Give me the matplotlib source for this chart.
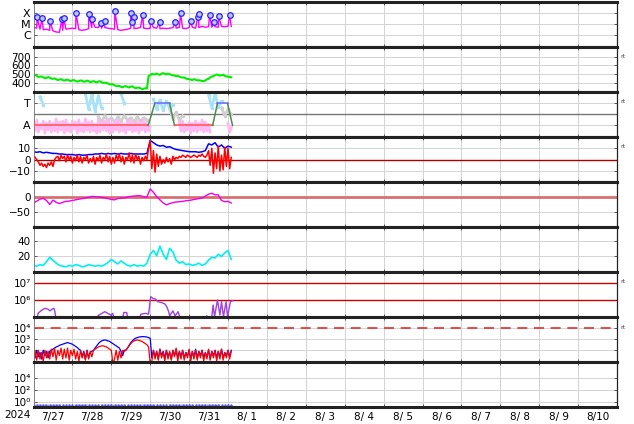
import numpy as np
import matplotlib
matplotlib.use('Agg')
import matplotlib.pyplot as plt

nan = np.nan

# time grids (hours since 2024-07-27 00:00)
h2 = np.arange(0, 123, 2)   # 2-hourly
h1 = np.arange(0, 123)      # hourly

day_labels = ['7/27', '7/28', '7/29', '7/30', '7/31', '8/ 1', '8/ 2', '8/ 3',
              '8/ 4', '8/ 5', '8/ 6', '8/ 7', '8/ 8', '8/ 9', '8/10']

# X-ray flux, log10 W/m2 (background every 2 h)
xray_base = [-5.27, -5.36, -5.45, -5.5, -5.45, -5.55, -5.6, -5.7, -5.73, -5.55,
             -5.45, -5.4, -5.36, -5.4, -5.5, -5.55, -5.5, -5.4, -5.3, -5.27,
             -5.3, -5.36, -5.3, -5.36, -5.4, -5.45, -5.5, -5.55, -5.5, -5.45,
             -5.36, -5.4, -5.36, -5.3, -5.36, -5.4, -5.36, -5.3, -5.36, -5.4,
             -5.36, -5.4, -5.36, -5.3, -5.36, -5.27, -5.36, -5.4, -5.3, -5.27,
             -5.36, -5.3, -5.18, -5.27, -5.22, -5.27, -5.22, -5.27, -5.2, -5.22,
             -5.18, -5.2]
flare_h = [2.2, 5.3, 10.1, 17.5, 18.7, 26.2, 34.1, 36.0, 41.5, 43.9, 50.2, 60.0,
           61.9, 60.5, 67.4, 72.2, 77.8, 87.6, 90.7, 97.0, 101.3, 101.8, 108.7,
           111.6, 114.2, 121.0]
flare_lg = [-4.36, -4.45, -4.73, -4.55, -4.45, -4.0, -4.09, -4.55, -4.91, -4.73,
            -3.82, -4.0, -4.36, -4.82, -4.18, -4.73, -4.82, -4.82, -4.0, -4.73,
            -4.36, -4.09, -4.18, -4.82, -4.27, -4.18]

# solar wind speed km/s (hourly)
speed = [485, 492, 478, 466, 470, 471, 462, 452, 455, 464,
         458, 447, 445, 449, 440, 430, 436, 441, 430, 424,
         432, 435, 425, 419, 428, 430, 420, 413, 418, 426,
         422, 411, 415, 424, 418, 406, 412, 418, 410, 403,
         414, 416, 405, 396, 400, 398, 390, 380, 382, 381,
         370, 362, 360, 362, 352, 346, 358, 360, 350, 345,
         356, 357, 345, 336, 342, 344, 335, 326, 330, 336,
         332, 478, 485, 502, 495, 498, 505, 496, 490, 505,
         510, 500, 495, 505, 498, 490, 485, 482, 475, 478,
         470, 462, 460, 458, 450, 442, 440, 436, 430, 440,
         435, 426, 428, 424, 420, 418, 425, 438, 445, 462,
         470, 476, 485, 495, 490, 482, 485, 492, 478, 472,
         470, 466, 462]

# IMF sector (T=+1, A=-1)
sector_h = [0, 70.8, 74.8, 84.0, 87.0, 110.5, 113.5, 119.7, 122.8]
sector_v = [-1, -1, 1, 1, -1, -1, 1, 1, -1]
sec_pink = [-0.7, -1.5, -0.5, -1.6, -0.9, -1.3, -0.6, -1.7, -0.8, -1.4,
            -0.6, -1.6, -0.8, -1.5, -0.4, -1.6, -0.7, -1.4, -0.6, -1.7,
            -0.5, -1.5, -0.9, -1.6, -0.6, -1.3, -0.7, -1.7, -0.5, -1.5,
            -0.8, -1.6, -0.4, -1.4, -0.7, -1.6, -0.6, -1.5, -0.9, -1.7,
            -0.5, -1.6, -0.7, -1.4, -0.6, -1.5, -0.4, -1.7, -0.8, -1.6,
            -0.6, -1.4, -0.5, -1.6, -0.7, -1.5, -0.9, -1.7, -0.6, -1.4,
            -0.5, -1.6, -0.8, -1.5, -0.6, -1.7, -0.7, -1.4, -0.5, -1.6,
            -0.8, -1.5, -1.1,
            nan, nan, nan, nan, nan, nan, nan, nan, nan, nan,
            nan, nan, nan, nan, nan, nan, nan,
            -0.7, -1.5, -0.6, -1.6, -0.9, -1.4, -0.7, -1.7, -0.8, -1.5,
            -0.6, -1.6, -0.8, -1.4, -0.5, -1.6, -0.7, -1.5, -0.9, -1.6,
            nan, nan, nan, nan, nan, nan, nan, nan, nan, nan,
            -0.8, -1.6, -1.2]
sec_blue = [nan, nan, 1.6, 0.9] + [nan] * 12 + [1.9, 0.5, 1.8, 0.3, 1.7, 0.6] + \
           [nan] * 5 + [1.9, 1.0] + [nan] * 8 + [1.4, 0.5, 1.3, 0.4, 1.2, 0.6, 0.9] + \
           [nan] * 10 + [1.8, 0.6, 1.9, 0.7, 1.2] + [nan] * 3
sec_gray = [nan] * 20 + [-0.2, -0.7, -0.1, -0.6, -0.3, -0.7, -0.2, -0.6, -0.1, -0.5,
                         -0.3, -0.7, -0.2, -0.6, -0.3, -0.5] + \
           [nan] * 6 + [0.5, -0.4, 0.2, -0.5, -0.1] + [nan] * 11 + [0.6, -0.1, 0.5, 0.0]

# IMF Bt (2 h) and Bz (1 h), nT
bt = [7, 6.5, 7, 6, 6.5, 6, 5.5, 5.5, 5, 5, 4.5, 4.5, 4.5, 4, 4.5, 4, 4, 4.5, 4.5,
      5, 5, 5.5, 5, 5.5, 5, 5.5, 5, 5.5, 5, 5, 5.5, 5, 5, 5, 5, 5.5, 17, 15, 13, 12,
      12.5, 11, 11.5, 10, 9, 8.5, 8, 7.5, 7, 7, 7, 6.5, 7, 8, 14, 13, 15, 11, 13,
      10, 12, 11]
bz = [4, 2, 0, -2, -5, -3, -6, -4, -7, -3,
      -5, -2, -6, 0, 2, 3, -1, 4, 1, 3,
      -2, 4, 0, 3, -3, 2, -1, 4, -2, 3,
      -3, 2, 0, 4, -3, 1, -2, 3, -4, 2,
      -1, 4, -3, 2, 0, 5, -2, 3, -4, 2,
      -3, 4, 0, 5, -2, 3, -4, 2, 0, 6,
      -2, 4, -3, 5, 0, 3, -4, 2, -1, 3,
      0, 10, 17, -8, 8, -11, 5, -6, 3, -4,
      0, -3, 2, -2, 1, -4, 3, 0, 2, 1,
      3, 2, 4, 3, 2, 4, 3, 2, 3, 4,
      3, 2, 4, 3, 5, 3, 2, 4, 8, -5,
      10, -12, 6, -8, 12, -10, 4, -9, 11, -6,
      10, -8, 2]

# Dst nT (2 h)
dst = [-21, -14, -8, -5, -12, -25, -11, -18, -22, -18, -15, -14, -12, -10, -8, -6,
       -4, -2, 1, 0, -1, -2, -4, -6, -9, -10, -6, -4, -4, -1, 1, 2, 3, 3, 0, -1,
       25, 14, 0, -10, -20, -26, -22, -19, -17, -16, -15, -13, -12, -10, -8, -6,
       -4, 2, 8, 11, 6, 6, -12, -16, -15, -20]

# cyan index (2 h)
cyan = [7, 6, 8, 7, 12, 18, 14, 10, 7, 6, 5, 7, 6, 8, 7, 5, 6, 8, 7, 6, 7, 6, 8,
        11, 15, 12, 9, 13, 10, 7, 6, 8, 6, 7, 6, 10, 22, 27, 20, 33, 22, 15, 30,
        25, 14, 10, 12, 8, 9, 7, 8, 10, 7, 9, 14, 18, 17, 22, 19, 24, 27, 15]

# electron flux, log10
elec_h = [2.2, 2.8, 5.2, 7.1, 8.9, 10.2, 11.4, 12.6, 13.2, 13.8, 20, 38.5, 40.3,
          42.2, 44.0, 45.8, 47.7, 48.9, 49.6, 55.0, 55.7, 57.5, 58.2, 65.5, 66.2,
          69.2, 71.0, 72.3, 73.5, 75.4, 76.6, 79.0, 81.2, 82.2, 83.4, 84.0, 86.0,
          87.4, 89.2, 90.2, 90.8, 100, 106.2, 106.8, 108.6, 110.0, 110.8, 111.7,
          113.5, 115.0, 116.0, 117.2, 118.8, 119.7, 121.5, 122.8]
elec_lg = [4.9, 5.2, 5.4, 5.5, 5.45, 5.35, 5.45, 5.5, 5.3, 4.9, 4.5, 4.9, 5.1,
           5.2, 5.3, 5.2, 5.1, 5.2, 4.9, 4.9, 5.25, 5.25, 4.9, 4.9, 5.15, 5.2,
           5.15, 6.2, 6.1, 6.05, 5.9, 5.85, 5.75, 5.6, 5.3, 5.05, 5.35, 5.05, 5.3,
           5.0, 4.9, 4.5, 4.9, 5.05, 4.9, 5.0, 5.7, 5.0, 6.0, 5.1, 5.9, 5.0, 5.9,
           5.0, 5.9, 5.95]

# proton flux, log10 (hourly)
prot_blue = [1.9, 1.3, 2.0, 1.4, 1.8, 1.2, 2.0, 1.5, 1.9, 1.3,
             1.9, 2.0, 2.1, 2.2, 2.3, 2.35, 2.45, 2.5, 2.55, 2.6,
             2.65, 2.7, 2.65, 2.6, 2.55, 2.45, 2.35, 2.25, 2.1, 2.0,
             1.4, 1.9, 1.2, 2.0, 1.3, 1.8, 1.9,
             2.0, 2.2, 2.4, 2.6, 2.75, 2.85, 2.9, 2.94, 2.9, 2.85, 2.8, 2.7, 2.6,
             2.5, 2.4, 2.3, 2.2,
             1.9, 1.5, 2.0,
             2.0, 2.2, 2.45, 2.7, 2.85, 3.0, 3.1, 3.15, 3.2, 3.22, 3.24, 3.24,
             3.22, 3.2, 3.15, 3.1,
             1.3, 2.0, 1.4, 1.9, 1.2, 2.1, 1.5, 1.9, 1.3, 2.0,
             1.4, 1.8, 1.2, 2.0, 1.5, 2.1, 1.3, 1.9, 1.4, 2.0,
             1.3, 1.8, 1.5, 2.0, 1.2, 1.9, 1.4, 2.1, 1.3, 1.9,
             1.5, 2.0, 1.3, 1.8, 1.4, 2.0, 1.2, 1.9, 1.5, 2.0,
             1.3, 1.9, 1.4, 2.1, 1.3, 1.8, 1.5, 2.0, 1.4, 2.0]
prot_red = [1.0, 1.9, 1.1, 2.0, 1.2, 1.8, 1.0, 2.0, 1.3, 1.9,
            1.2, 2.1, 1.4, 2.2, 1.1, 2.0, 1.5, 2.2, 1.2, 2.1,
            1.3, 2.2, 1.1, 2.0, 1.5, 2.1, 1.2, 1.9, 1.0, 2.0,
            1.3, 1.8, 1.1, 2.0, 1.2, 1.9, 1.4,
            2.0, 2.1, 2.2, 2.3, 2.35, 2.4, 2.4, 2.35, 2.3, 2.2, 2.1, 2.0, 0.8,
            1.2, 2.0, 1.1, 1.9, 1.3, 2.0, 1.9,
            2.0, 2.2, 2.4, 2.6, 2.75, 2.85, 2.9, 2.94, 2.9, 2.85, 2.8, 2.7, 2.6,
            2.5, 2.3, 0.8,
            1.0, 2.0, 1.2, 1.9, 1.1, 2.1, 1.3, 1.8, 1.0, 2.0,
            1.2, 1.9, 1.1, 2.0, 1.4, 2.2, 1.0, 1.9, 1.2, 2.0,
            1.1, 1.8, 1.3, 2.1, 1.0, 1.9, 1.2, 2.0, 1.1, 1.9,
            1.3, 2.0, 1.0, 1.8, 1.2, 2.1, 1.1, 1.9, 1.3, 2.0,
            1.0, 1.9, 1.2, 2.1, 1.1, 1.8, 1.3, 2.0, 1.2, 1.9]

# bottom panel, log10 (2 h)
bottom_lg = [-0.6, -0.58, -0.62, -0.6, -0.57, -0.6, -0.63, -0.6, -0.58, -0.6,
             -0.61, -0.59, -0.6, -0.62, -0.58, -0.6, -0.6, -0.57, -0.6, -0.62,
             -0.6, -0.59, -0.6, -0.61, -0.58, -0.6, -0.6, -0.62, -0.59, -0.6,
             -0.58, -0.6, -0.61, -0.6, -0.57, -0.6, -0.6, -0.62, -0.6, -0.58,
             -0.6, -0.61, -0.6, -0.59, -0.6, -0.62, -0.6, -0.58, -0.6, -0.6,
             -0.61, -0.59, -0.6, -0.6, -0.58, -0.62, -0.6, -0.59, -0.6, -0.61,
             -0.6, -0.58]

W, H = 634, 424
fig = plt.figure(figsize=(W / 100, H / 100), dpi=100)
X0, X1 = 33.5, 617.0
tops = [1.7 + 45 * i for i in range(9)]
axes = []
for t in tops:
    ax = fig.add_axes([X0 / W, 1 - (t + 45) / H, (X1 - X0) / W, 45 / H])
    axes.append(ax)

d2 = h2 / 24.0
d1 = h1 / 24.0
grid_c = '#d4d4d4'


def style(ax, ylim, ticks, labels, log=False, fs=7.5):
    if log:
        ax.set_yscale('log')
    ax.set_xlim(0, 15)
    ax.set_ylim(*ylim)
    ax.set_xticks(range(16))
    ax.set_xticklabels([])
    ax.set_yticks(ticks)
    ax.set_yticklabels(labels, fontsize=fs)
    ax.yaxis.set_minor_locator(matplotlib.ticker.NullLocator())
    ax.grid(True, color=grid_c, lw=0.7, zorder=0)
    ax.set_axisbelow(True)
    ax.tick_params(direction='in', length=2.5, width=0.6, pad=2,
                   top=True, right=True, colors='#444444', labelcolor='black')
    for s in ('top', 'bottom'):
        ax.spines[s].set_linewidth(2.2)
        ax.spines[s].set_color('#222222')
    ax.spines['left'].set_linewidth(0.6)
    ax.spines['left'].set_color('#777777')
    ax.spines['right'].set_linewidth(0.9)
    ax.spines['right'].set_color('#222222')


def rt(ax, y):
    ax.text(1.006, y, 'rt', transform=ax.get_yaxis_transform(), fontsize=4.5,
            color='#444444', va='center', ha='left')


# 1: X-ray
ax = axes[0]
style(ax, (10 ** -7.04, 10 ** -2.95), [1e-4, 1e-5, 1e-6], ['X', 'M', 'C'], log=True, fs=8)
xt = np.concatenate([h2, flare_h])
xv = np.concatenate([xray_base, flare_lg])
order = np.argsort(xt, kind='stable')
ax.plot(xt[order] / 24, np.power(10.0, xv[order]), color='#ff00ff', lw=1.0)
ax.plot(np.array(flare_h) / 24, np.power(10.0, flare_lg), 'o', ms=4,
        mfc='#c4c4ff', mec='#2020ff', mew=0.9, zorder=5)

# 2: speed
ax = axes[1]
style(ax, (296, 815), [400, 500, 600, 700], ['400', '500', '600', '700'])
ax.plot(d1, speed, color='#00ee00', lw=1.5)
rt(ax, 700)

# 3: sector
ax = axes[2]
style(ax, (-2.02, 2.07), [1, -1], ['T', 'A'], fs=8)
ax.axhline(0, color='#777777', lw=1.0)
ax.plot(d2, sec_gray, color='#cfcfcf', lw=2.0, marker='s', ms=1.5)
ax.plot(d1, sec_pink, color='#ffb8f2', lw=2.0)
ax.plot(d2, sec_blue, color='#a8e2f8', lw=2.0, marker='s', ms=1.8)
sh = np.array(sector_h) / 24
for i in range(len(sector_h) - 1):
    a, b = sector_v[i], sector_v[i + 1]
    if a == b == -1:
        c = '#ff5050'
    elif a == b == 1:
        c = '#6a6aff'
    else:
        c = '#4f8a4f'
    ax.plot(sh[i:i + 2], sector_v[i:i + 2], color=c, lw=1.1, zorder=4)
rt(ax, 1.15)

# 4: Bt / Bz
ax = axes[3]
style(ax, (-19.5, 20.3), [10, 0, -10], ['10', '0', '\u221210'])
ax.axhline(0, color='#aa0000', lw=1.0)
ax.plot(d2, bt, color='#0000ff', lw=1.1)
ax.plot(d1, bz, color='#ff0000', lw=1.1)
rt(ax, 11.5)

# 5: Dst
ax = axes[4]
style(ax, (-96, 48), [0, -50], ['0', '\u221250'])
ax.axhline(0, color='#d87070', lw=2.0)
ax.plot(d2, dst, color='#ee00ee', lw=1.0)

# 6: cyan
ax = axes[5]
style(ax, (-1.5, 59.2), [40, 20], ['40', '20'])
ax.plot(d2, cyan, color='#00f0f0', lw=1.2)

# 7: electrons
ax = axes[6]
style(ax, (1e5, 10 ** 7.69), [1e7, 1e6], ['10\u2077', '10\u2076'], log=True, fs=7.5)
ax.axhline(1e7, color='#cc0000', lw=1.0)
ax.axhline(1e6, color='#cc0000', lw=1.0)
ax.plot(np.array(elec_h) / 24, np.power(10.0, elec_lg), color='#a040e0', lw=1.0)
rt(ax, 10 ** 7.1)

# 8: protons
ax = axes[7]
style(ax, (10 ** 0.96, 10 ** 5.05), [1e4, 1e3, 1e2],
      ['10\u2074', '10\u00b3', '10\u00b2'], log=True, fs=7.5)
ax.axhline(1e4, color='#e03030', lw=1.2, dashes=(6, 4))
ax.plot(d1, np.power(10.0, prot_blue), color='#0000ff', lw=0.9)
ax.plot(d1, np.power(10.0, prot_red), color='#ff0000', lw=0.9)
rt(ax, 10 ** 4.1)

# 9: bottom
ax = axes[8]
style(ax, (10 ** -0.85, 10 ** 6.84), [1e4, 1e2, 1e0],
      ['10\u2074', '10\u00b2', '10\u2070'], log=True, fs=7.5)
ax.plot(d2, np.power(10.0, bottom_lg), color='#5a5aff', lw=0.8, ls=':',
        marker='.', ms=1.5)
ax.set_xticks(np.arange(15) + 0.5, minor=True)
ax.set_xticklabels(day_labels, minor=True, fontsize=7.5)
ax.tick_params(axis='x', which='minor', length=0, pad=4)

fig.text(17 / W, 1 - 415 / H, '2024', fontsize=7.5, ha='center', va='center')

fig.savefig('out.png', dpi=100)
